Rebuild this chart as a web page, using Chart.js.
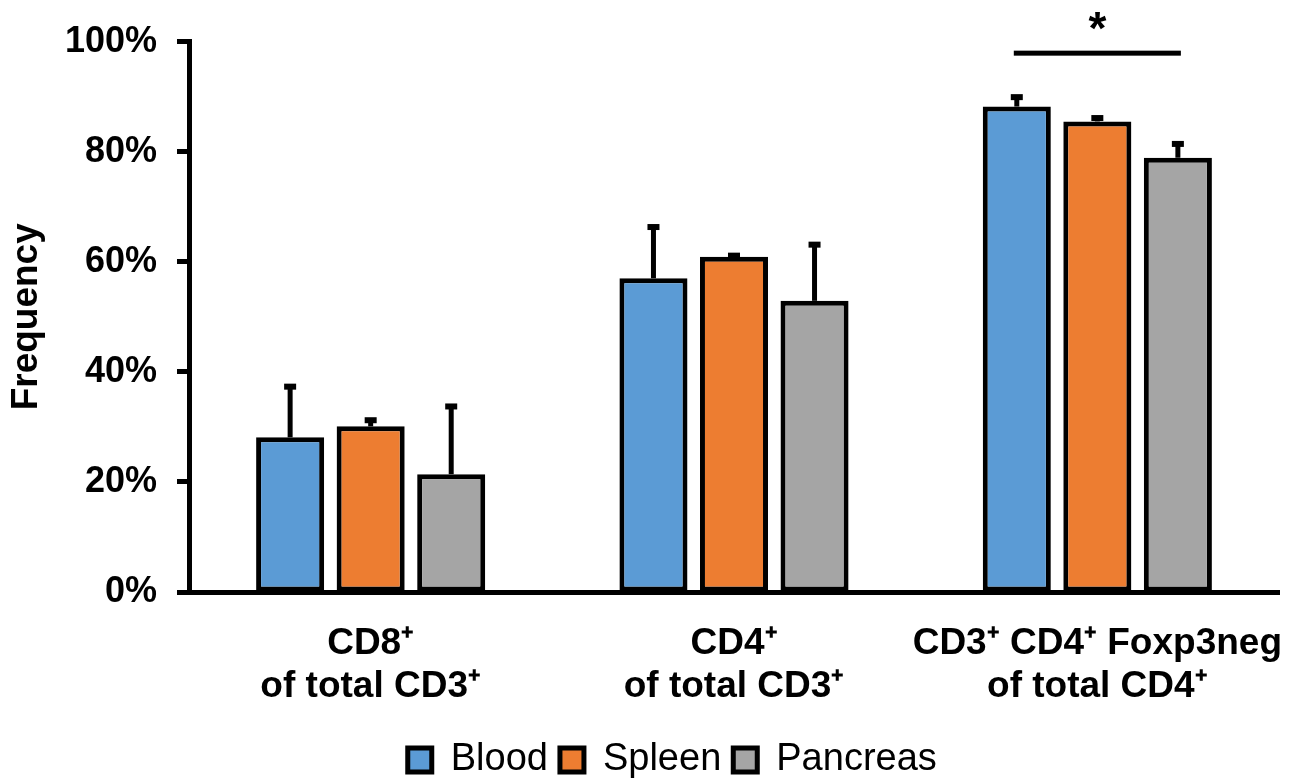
<!DOCTYPE html>
<html>
<head>
<meta charset="utf-8">
<script src="https://cdn.jsdelivr.net/npm/chart.js@4.4.1/dist/chart.umd.min.js"></script>
<style>
    html, body { margin: 0; padding: 0; background: #fff; }
    #wrap { width: 1299px; height: 780px; }
</style>
</head>
<body>
<div id="wrap"><canvas id="chart" width="1299" height="780"></canvas></div>
<script>
'use strict';

// Categories (multi-line labels)
const categories = [
    ['CD8\u207A', 'of total CD3\u207A'],
    ['CD4\u207A', 'of total CD3\u207A'],
    ['CD3\u207A CD4\u207A Foxp3neg', 'of total CD4\u207A']
];

// Mean frequency (%) per tissue
const blood = [28.1, 57.0, 88.2];
const spleen = [30.1, 60.9, 85.5];
const pancreas = [21.4, 52.9, 78.9];

// Upper error (%) per tissue
const bloodErr = [9.3, 9.4, 1.8];
const spleenErr = [1.2, 0.3, 0.7];
const pancreasErr = [12.4, 10.3, 2.6];

// Significance bracket: category index, from / to dataset index, level (%), label
const sigCategory = [2];
const sigFrom = [0];
const sigTo = [2];
const sigLevel = [97.9];
const sigLabel = ['*'];

const yTicks = [0, 20, 40, 60, 80, 100];

const FONT = "'Liberation Sans', Arial, sans-serif";
Chart.defaults.font.family = FONT;
Chart.defaults.color = '#000';

/**
 * Draw upper error bars on top of each bar.
 */
const errorBars = {
    id: 'errorBars',
    afterDatasetsDraw(chart) {
        const ctx = chart.ctx;
        const y = chart.scales.y;
        chart.data.datasets.forEach((ds, d) => {
            const meta = chart.getDatasetMeta(d);
            meta.data.forEach((bar, i) => {
                const top = y.getPixelForValue(ds.data[i] + ds.errors[i]);
                ctx.save();
                ctx.strokeStyle = '#000';
                ctx.lineWidth = 5;
                ctx.beginPath();
                ctx.moveTo(bar.x, bar.y);
                ctx.lineTo(bar.x, top);
                ctx.stroke();
                ctx.fillStyle = '#000';
                ctx.fillRect(bar.x - 6, top - 2.5, 12, 6); // cap
                ctx.restore();
            });
        });
    }
};

/**
 * Significance line with star above the third group.
 */
const significance = {
    id: 'significance',
    afterDatasetsDraw(chart) {
        const ctx = chart.ctx;
        const y = chart.scales.y;
        sigCategory.forEach((c, k) => {
            const x1 = chart.getDatasetMeta(sigFrom[k]).data[c].x;
            const x2 = chart.getDatasetMeta(sigTo[k]).data[c].x;
            const yy = y.getPixelForValue(sigLevel[k]);
            ctx.save();
            ctx.fillStyle = '#000';
            ctx.fillRect(x1 - 3, yy - 2.5, x2 - x1 + 6, 5);
            ctx.font = 'bold 46px ' + FONT;
            ctx.textAlign = 'center';
            ctx.textBaseline = 'middle';
            ctx.fillText(sigLabel[k], (x1 + x2) / 2, yy - 22);
            ctx.restore();
        });
    }
};

const barStyle = {
    borderColor: '#000',
    borderWidth: 5,
    borderSkipped: false,
    barPercentage: 0.845,
    categoryPercentage: 0.665
};

// Legend items, with a blank spacer first so the row sits right of centre like the original
function legendLabels(chart) {
    const items = Chart.defaults.plugins.legend.labels.generateLabels(chart);
    items.forEach(it => { it.lineWidth = 5; });
    items.unshift({ text: ' ', fillStyle: 'rgba(0,0,0,0)', strokeStyle: 'rgba(0,0,0,0)', lineWidth: 0, datasetIndex: -1 });
    return items;
}

new Chart(document.getElementById('chart').getContext('2d'), {
    type: 'bar',
    data: {
        labels: categories,
        datasets: [
            Object.assign({ label: 'Blood', data: blood, errors: bloodErr, backgroundColor: '#5B9BD5' }, barStyle),
            Object.assign({ label: 'Spleen', data: spleen, errors: spleenErr, backgroundColor: '#ED7D31' }, barStyle),
            Object.assign({ label: 'Pancreas', data: pancreas, errors: pancreasErr, backgroundColor: '#A5A5A5' }, barStyle)
        ]
    },
    options: {
        responsive: false,
        animation: false,
        layout: { padding: { top: 40, right: 20, left: 0, bottom: -9 } },
        plugins: {
            tooltip: { enabled: false },
            title: { display: false },
            legend: {
                position: 'bottom',
                labels: {
                    boxWidth: 24,
                    boxHeight: 24,
                    padding: 12,
                    font: { size: 38 },
                    generateLabels: legendLabels
                }
            }
        },
        scales: {
            x: {
                grid: { display: true, drawOnChartArea: false, drawTicks: false },
                border: { display: true, color: '#000', width: 5 },
                ticks: {
                    autoSkip: false,
                    maxRotation: 0,
                    minRotation: 0,
                    padding: 30,
                    font: { size: 37, weight: 'bold', lineHeight: 1.17 }
                },
                afterFit(scale) {
                    scale.height = 137;
                    // let the long last label overhang instead of shrinking the plot
                    scale.paddingLeft = 0;
                    scale.paddingRight = 0;
                }
            },
            y: {
                min: 0,
                max: 100,
                afterBuildTicks(scale) { scale.ticks = yTicks.map(v => ({ value: v })); },
                grid: { drawOnChartArea: false, drawTicks: true, tickLength: 12, tickWidth: 5, tickColor: '#000' },
                border: { display: true, color: '#000', width: 5 },
                ticks: {
                    padding: 20,
                    font: { size: 36, weight: 'bold' },
                    callback: v => v + '%'
                },
                title: {
                    display: true,
                    text: 'Frequency',
                    font: { size: 37, weight: 'bold' },
                    padding: { top: 5, bottom: 0 }
                },
                afterFit(scale) { scale.width = 189; }
            }
        }
    },
    plugins: [errorBars, significance]
});
</script>
</body>
</html>
